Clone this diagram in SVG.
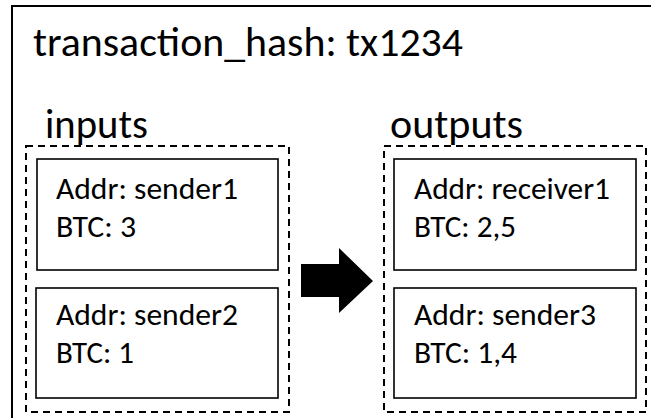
<svg xmlns="http://www.w3.org/2000/svg" width="651" height="418" viewBox="0 0 651 418">
  <style>
    .frame { fill: #ffffff; stroke: #000000; stroke-width: 2; }
    .group { fill: none; stroke: #000000; stroke-width: 2; stroke-dasharray: 7 5; }
    .utxo { fill: #ffffff; stroke: #000000; stroke-width: 1.6; }
    text { font-family: Carlito, "Open Sans", "Noto Sans", "Liberation Sans", sans-serif; fill: #000000; }
    .title { font-size: 41px; }
    .label { font-size: 40px; }
    .field { font-size: 30px; }
  </style>
  <rect width="651" height="418" fill="#ffffff"/>

  <!-- transaction frame, continues past the right and bottom edges -->
  <g id="transaction">
    <rect class="frame" x="12" y="6" width="660" height="430"/>
    <text class="title" x="33" y="56" textLength="430" lengthAdjust="spacingAndGlyphs">transaction_hash: tx1234</text>
  </g>

  <!-- inputs -->
  <g id="inputs">
    <text class="label" x="45" y="138" textLength="103" lengthAdjust="spacingAndGlyphs">inputs</text>
    <rect class="group" x="26" y="146" width="263" height="266"/>
  </g>
  <g id="input-sender1">
    <rect class="utxo" x="37" y="159" width="241" height="111"/>
    <text class="field" x="56" y="199" textLength="182" lengthAdjust="spacingAndGlyphs">Addr: sender1</text>
    <text class="field" x="56" y="237" textLength="80" lengthAdjust="spacingAndGlyphs">BTC: 3</text>
  </g>
  <g id="input-sender2">
    <rect class="utxo" x="36" y="288" width="242" height="110"/>
    <text class="field" x="56" y="325" textLength="182" lengthAdjust="spacingAndGlyphs">Addr: sender2</text>
    <text class="field" x="56" y="363" textLength="78" lengthAdjust="spacingAndGlyphs">BTC: 1</text>
  </g>

  <!-- outputs -->
  <g id="outputs">
    <text class="label" x="390" y="138" textLength="133" lengthAdjust="spacingAndGlyphs">outputs</text>
    <rect class="group" x="384" y="146" width="262" height="266"/>
  </g>
  <g id="output-receiver1">
    <rect class="utxo" x="394" y="159" width="242" height="111"/>
    <text class="field" x="414" y="199" textLength="196" lengthAdjust="spacingAndGlyphs">Addr: receiver1</text>
    <text class="field" x="414" y="237" textLength="102" lengthAdjust="spacingAndGlyphs">BTC: 2,5</text>
  </g>
  <g id="output-sender3">
    <rect class="utxo" x="394" y="288" width="242" height="110"/>
    <text class="field" x="414" y="325" textLength="182" lengthAdjust="spacingAndGlyphs">Addr: sender3</text>
    <text class="field" x="414" y="363" textLength="103" lengthAdjust="spacingAndGlyphs">BTC: 1,4</text>
  </g>

  <!-- block arrow from inputs to outputs -->
  <g id="connectors">
    <polygon points="301,264 339,264 339,248 373,281 339,313 339,297 301,297" fill="#000000"/>
  </g>
</svg>
